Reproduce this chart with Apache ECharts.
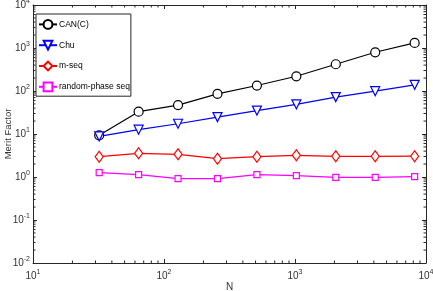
<!DOCTYPE html>
<html>
<head>
<meta charset="utf-8">
<script src="https://cdn.jsdelivr.net/npm/echarts@6/dist/echarts.min.js"></script>
<style>
  html, body { margin: 0; padding: 0; background: #fff; }
  #chart { width: 433px; height: 291px; }
</style>
</head>
<body>
<div id="chart"></div>
<script>
  const N = [32, 64, 128, 256, 512, 1024, 2048, 4096, 8192];
  const canC = [9.3, 33, 47, 86, 134, 220, 419, 795, 1313];
  const chu = [8.8, 12.6, 17.3, 24.7, 35, 49, 72, 99, 139];
  const mseq = [2.97, 3.55, 3.37, 2.67, 2.97, 3.19, 3.02, 3.02, 3.05];
  const randPhase = [1.26, 1.13, 0.92, 0.92, 1.13, 1.08, 0.98, 0.98, 1.02];

  const xDecades = [10, 100, 1000];
  const yDecades = [0.01, 0.1, 1, 10, 100, 1000];

  const X_MIN = 10, X_MAX = 10000, Y_MIN = 0.01, Y_MAX = 10000;
  const AX = '#262626';

  // minor ticks for log axes: [x, y, kind]
  const minorTicks = [];
  xDecades.forEach(d => { for (let k = 2; k <= 9; k++) minorTicks.push([d * k, 1, 0]); });
  yDecades.forEach(d => { for (let k = 2; k <= 9; k++) minorTicks.push([100, d * k, 1]); });

  function supLabel(v) {
    return '{b|10}{e|' + Math.round(Math.log10(v)) + '}';
  }
  const rich = {
    b: { fontSize: 10, color: '#333', fontFamily: 'Liberation Sans' },
    e: { fontSize: 7, color: '#333', fontFamily: 'Liberation Sans', padding: [0, 0, 7, 0] }
  };

  function pair(v, i) { return [N[i], v]; }

  const chart = echarts.init(document.getElementById('chart'));

  function line(name, data, color, symbol, size, rotate) {
    return {
      name: name,
      type: 'line',
      data: data.map(pair),
      symbol: symbol,
      symbolSize: size,
      symbolRotate: rotate || 0,
      showAllSymbol: true,
      lineStyle: { color: color, width: 1.2 },
      itemStyle: { color: '#fff', borderColor: color, borderWidth: 1.2 },
      emphasis: { disabled: true },
      animation: false,
      z: 5
    };
  }

  const logAxis = (min, max, extra) => Object.assign({
    type: 'log',
    logBase: 10,
    min: min,
    max: max,
    interval: 1,
    nameMoveOverlap: false,
    axisLine: { show: true, onZero: false, lineStyle: { color: AX, width: 1 } },
    axisTick: { show: true, inside: true, length: 4, lineStyle: { color: AX } },
    splitLine: { show: false }
  }, extra);

  chart.setOption({
    animation: false,
    grid: { left: 33, right: 7, top: 5, bottom: 28, containLabel: false, outerBoundsMode: 'none' },
    legend: {
      orient: 'vertical',
      left: 36,
      top: 14,
      padding: [5, 1, 4, 2],
      itemGap: 10,
      itemWidth: 18,
      itemHeight: 11,
      backgroundColor: '#fff',
      borderColor: AX,
      borderWidth: 1,
      borderRadius: 0,
      textStyle: { fontSize: 8.5, color: '#000', fontFamily: 'Liberation Sans', padding: [0, 0, 0, -3] },
      data: ['CAN(C)', 'Chu', 'm-seq', 'random-phase seq']
    },
    xAxis: [
      logAxis(X_MIN, X_MAX, {
        position: 'bottom',
        name: 'N',
        nameLocation: 'middle',
        nameGap: 19,
        nameTextStyle: { fontSize: 10, color: '#333', fontFamily: 'Liberation Sans', verticalAlign: 'top' },
        axisLabel: { formatter: supLabel, rich: rich, margin: 6 }
      }),
      logAxis(X_MIN, X_MAX, { position: 'top', axisLabel: { show: false } })
    ],
    yAxis: [
      logAxis(Y_MIN, Y_MAX, {
        position: 'left',
        name: 'Merit Factor',
        nameLocation: 'middle',
        nameGap: 20,
        nameTextStyle: { fontSize: 9.5, color: '#333', fontFamily: 'Liberation Sans' },
        axisLabel: { formatter: supLabel, rich: rich, margin: 3 }
      }),
      logAxis(Y_MIN, Y_MAX, { position: 'right', axisLabel: { show: false } })
    ],
    series: [
      line('CAN(C)', canC, '#000000', 'circle', 9),
      line('Chu', chu, '#0000ff', 'triangle', 9, 180),
      line('m-seq', mseq, '#ff0000', 'diamond', [8, 11]),
      line('random-phase seq', randPhase, '#ff00ff', 'rect', 6),
      {
        type: 'custom',
        silent: true,
        animation: false,
        clip: false,
        data: minorTicks,
        renderItem: function (params, api) {
          const v0 = api.value(0), v1 = api.value(1), kind = api.value(2);
          const st = { stroke: AX, lineWidth: 1 };
          const len = 2.5;
          if (kind === 0) {
            const a = api.coord([v0, Y_MIN]);
            const b = api.coord([v0, Y_MAX]);
            return {
              type: 'group',
              children: [
                { type: 'line', shape: { x1: a[0], y1: a[1], x2: a[0], y2: a[1] - len }, style: st },
                { type: 'line', shape: { x1: b[0], y1: b[1], x2: b[0], y2: b[1] + len }, style: st }
              ]
            };
          }
          const a = api.coord([X_MIN, v1]);
          const b = api.coord([X_MAX, v1]);
          return {
            type: 'group',
            children: [
              { type: 'line', shape: { x1: a[0], y1: a[1], x2: a[0] + len, y2: a[1] }, style: st },
              { type: 'line', shape: { x1: b[0], y1: b[1], x2: b[0] - len, y2: b[1] }, style: st }
            ]
          };
        }
      }
    ]
  });
</script>
</body>
</html>
